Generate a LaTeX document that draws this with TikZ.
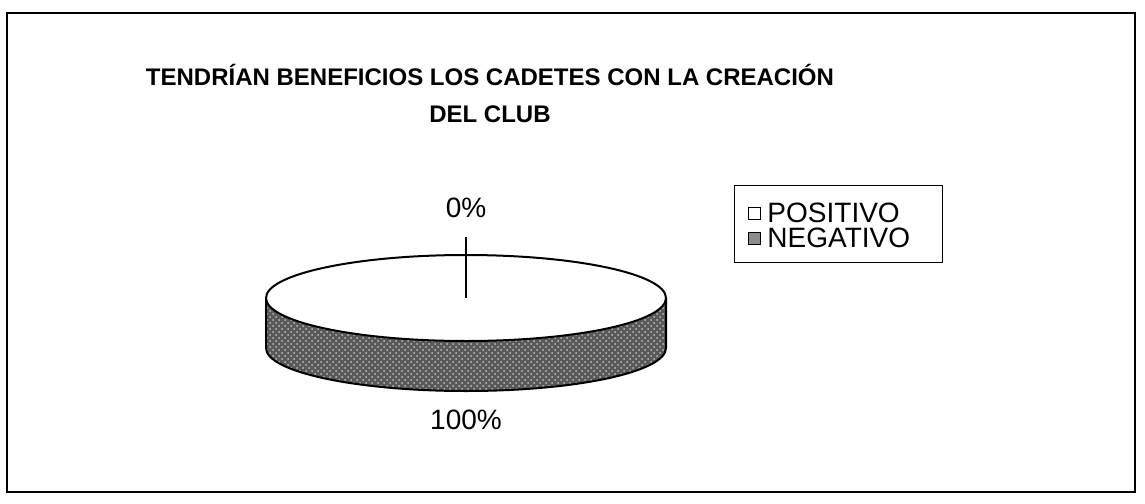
\documentclass[tikz,border=0pt]{standalone}
\usepackage{fontspec}
\setmainfont{Liberation Sans}
\usetikzlibrary{positioning,patterns}

\begin{document}
\begin{tikzpicture}[x=0.5pt,y=-0.5pt,
  lbl/.style={font=\fontsize{14}{16}\selectfont},
  legsq/.style={draw, minimum size=6pt, inner sep=0pt}]
\useasboundingbox (0,0) rectangle (1145,503);
\draw[line width=1.1pt] (7,13) rectangle (1135,492);
\node[font=\bfseries\fontsize{12}{18.5}\selectfont, align=center] (title) at (490,93)
  {TENDRÍAN BENEFICIOS LOS CADETES CON LA CREACIÓN\\DEL CLUB};
% side of the pie
\fill[black!65] (266,298) -- (266,348) arc[start angle=180, end angle=0, x radius=200, y radius=43]
  -- (666,298) arc[start angle=0, end angle=180, x radius=200, y radius=43] -- cycle;
\fill[pattern=crosshatch dots, pattern color=black!25] (266,298) -- (266,348) arc[start angle=180, end angle=0, x radius=200, y radius=43]
  -- (666,298) arc[start angle=0, end angle=180, x radius=200, y radius=43] -- cycle;
\draw[line width=1pt] (266,298) -- (266,348) arc[start angle=180, end angle=0, x radius=200, y radius=43] -- (666,298);
% top of the pie
\draw[line width=1pt, fill=white] (466,298) ellipse[x radius=200, y radius=43];
\coordinate (leadtop) at (466,237);
\coordinate (piecentre) at (466,298);
\draw[line width=1.1pt] (leadtop) -- (piecentre);
\node[lbl] (zero) at (466,208) {0\%};
\node[lbl] (hundred) at (466,420) {100\%};
% legend
\node[draw, minimum width=104pt, minimum height=38.5pt] (legend) at (838,223.5) {};
\node[legsq, fill=white] (sqpos) at (754,213) {};
\node[lbl, right=0pt of sqpos] (pos) {POSITIVO};
\node[legsq, fill=black!45] (sqneg) at (754,238) {};
\node[lbl, right=0pt of sqneg] (neg) {NEGATIVO};
\end{tikzpicture}
\end{document}
